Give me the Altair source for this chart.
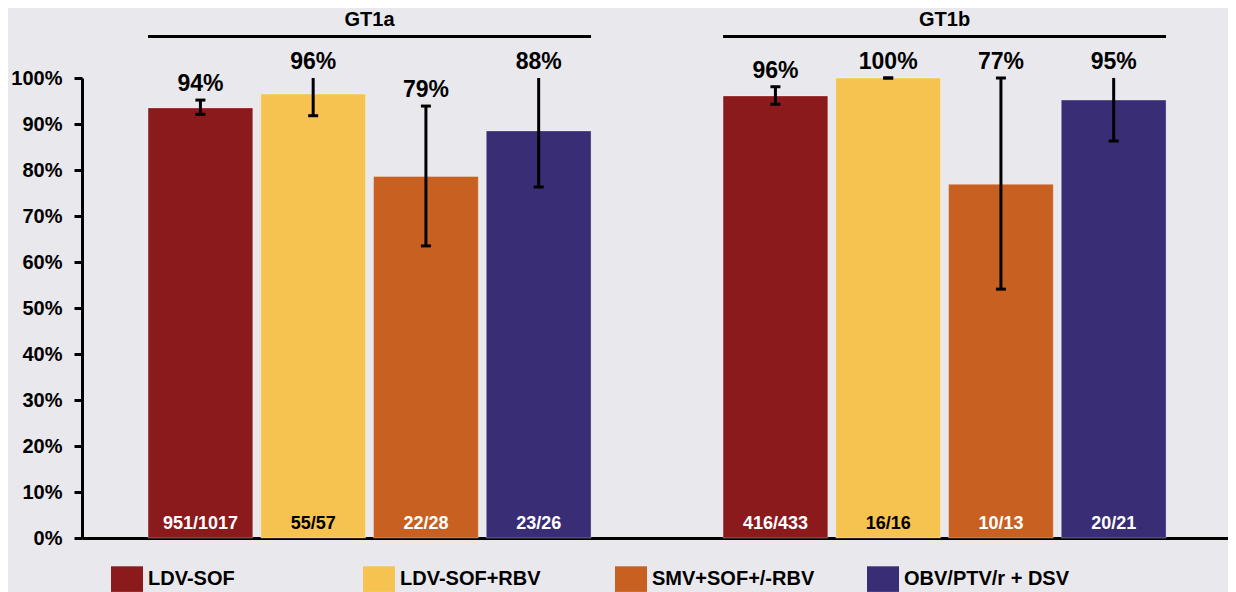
import altair as alt
import pandas as pd

FONT = "Liberation Sans"

genotypes = ["GT1a", "GT1b"]
regimens = ["LDV-SOF", "LDV-SOF+RBV", "SMV+SOF+/-RBV", "OBV/PTV/r + DSV"]
colors = ["#8B1A1C", "#F6C350", "#C86022", "#392D75"]

svr_gt1a = [93.5, 96.5, 78.6, 88.5]
svr_gt1b = [96.1, 100.0, 76.9, 95.2]
lo_gt1a = [92.1, 91.8, 63.5, 76.3]
lo_gt1b = [94.3, 100.0, 54.1, 86.3]
hi_gt1a = [95.2, 100.0, 93.9, 100.0]
hi_gt1b = [98.1, 100.0, 100.0, 100.0]
labels_gt1a = ["94%", "96%", "79%", "88%"]
labels_gt1b = ["96%", "100%", "77%", "95%"]
counts_gt1a = ["951/1017", "55/57", "22/28", "23/26"]
counts_gt1b = ["416/433", "16/16", "10/13", "20/21"]
upper_cap_gt1a = [True, False, True, False]
upper_cap_gt1b = [True, True, True, False]

rows = []
for g, svr, lo, hi, lab, cnt, cap in [
    ("GT1a", svr_gt1a, lo_gt1a, hi_gt1a, labels_gt1a, counts_gt1a, upper_cap_gt1a),
    ("GT1b", svr_gt1b, lo_gt1b, hi_gt1b, labels_gt1b, counts_gt1b, upper_cap_gt1b),
]:
    for i, r in enumerate(regimens):
        rows.append(dict(genotype=g, regimen=r, svr=svr[i], lo=lo[i], hi=hi[i],
                         label=lab[i], count=cnt[i], cap_hi=cap[i]))
df = pd.DataFrame(rows)
gdf = pd.DataFrame({"genotype": genotypes})

x_enc = alt.X("genotype:N", sort=genotypes,
              scale=alt.Scale(domain=genotypes, paddingInner=0.2296, paddingOuter=0.1113,
                              align=0.516),
              axis=alt.Axis(labels=False, ticks=False, title=None, domain=True,
                            domainColor="black", domainWidth=3, grid=False))
xo_enc = alt.XOffset("regimen:N", sort=regimens,
                     scale=alt.Scale(domain=regimens, paddingInner=0.071, paddingOuter=0))

base = alt.Chart(df).encode(x=x_enc, xOffset=xo_enc)

bars = base.mark_bar(stroke="white", strokeOpacity=0.3, strokeWidth=1).encode(
    y=alt.Y("svr:Q", scale=alt.Scale(domain=[0, 100]),
            axis=alt.Axis(values=list(range(0, 101, 10)), labelExpr="datum.value + '%'",
                          title=None, grid=False, domainColor="black", domainWidth=3,
                          tickColor="black", tickWidth=3, tickSize=8, labelPadding=12,
                          labelFont=FONT, labelFontSize=20, labelFontWeight="bold",
                          labelColor="black")),
    fill=alt.Fill("regimen:N", sort=regimens,
                  scale=alt.Scale(domain=regimens, range=colors),
                  legend=alt.Legend(orient="none", legendX=29, legendY=485,
                                    direction="horizontal", columns=4, columnPadding=49,
                                    gridAlign="all",
                                    title=None, symbolType="M-1,-0.8H1V0.8H-1Z",
                                    symbolSize=1024, symbolStrokeWidth=0,
                                    symbolOpacity=1, labelFont=FONT, labelFontSize=20,
                                    labelFontWeight="bold", labelColor="black",
                                    labelOffset=5, labelLimit=400, padding=0)),
)

err = base.mark_rule(color="black", strokeWidth=3).encode(y="lo:Q", y2="hi:Q")
cap_lo = base.mark_tick(color="black", thickness=3, size=10, opacity=1).encode(y="lo:Q")
cap_hi = base.transform_filter("datum.cap_hi").mark_tick(
    color="black", thickness=3, size=10, opacity=1).encode(y="hi:Q")

pct = base.mark_text(font=FONT, fontSize=23, fontWeight="bold", baseline="alphabetic",
                     dy=-9, color="black").encode(y="hi:Q", text="label:N")

cnt = base.mark_text(font=FONT, fontSize=18, fontWeight="bold", baseline="alphabetic",
                     dy=-9).encode(
    y=alt.datum(0),
    text="count:N",
    color=alt.condition(alt.datum.regimen == "LDV-SOF+RBV", alt.value("black"),
                        alt.value("white")),
)

titles = alt.Chart(gdf).mark_text(font=FONT, fontSize=20, fontWeight="bold",
                                  baseline="middle", color="black").encode(
    x=alt.X("genotype:N", sort=genotypes), y=alt.value(-58), text="genotype:N")
lines = alt.Chart(gdf).mark_rect(color="black").encode(
    x=alt.X("genotype:N", sort=genotypes), y=alt.value(-43), y2=alt.value(-40))

chart = alt.layer(bars, err, cap_lo, cap_hi, pct, cnt, titles, lines).properties(
    width=1146, height=460, background="#E9E8ED",
    padding={"left": 2, "top": 2, "right": 0, "bottom": 0},
).configure_view(stroke=None)

chart.save("out.html", embed_options={"renderer": "svg", "actions": False})
